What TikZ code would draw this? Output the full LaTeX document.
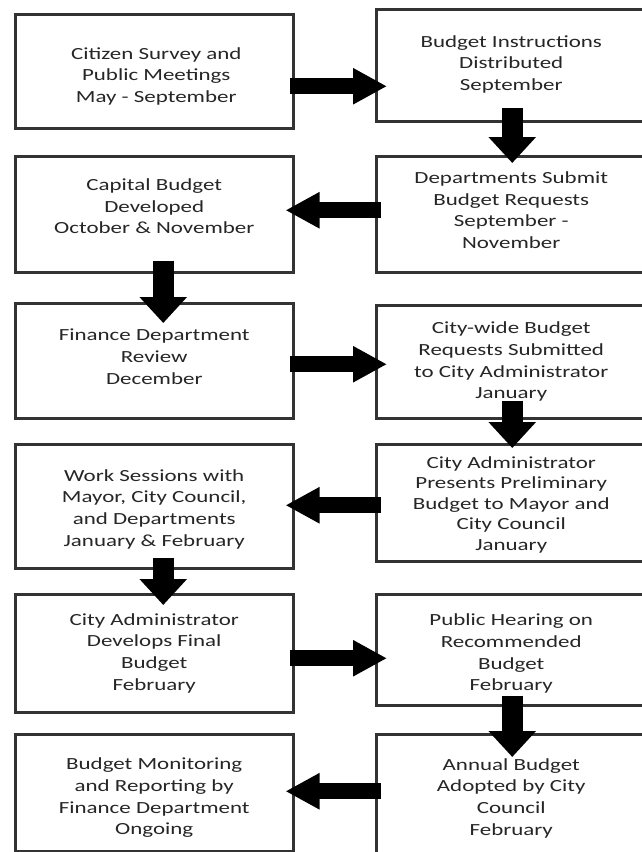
\documentclass[tikz,border=0pt]{standalone}
\usepackage{fontspec}
\usetikzlibrary{arrows.meta,calc}
\newfontfamily\boxfont[FakeStretch=1.35]{Carlito}
\begin{document}
\begin{tikzpicture}[x=1pt,y=-1pt,
  stage/.style={draw=black!80, line width=2.5pt, inner sep=0pt, anchor=north west},
  lbox/.style={stage, minimum width=278pt},
  rbox/.style={stage, minimum width=270pt},
  txt/.style={inner sep=0pt, align=center, text=black!85,
    font={\boxfont\fontsize{17}{21.7}\selectfont}},
  harrow/.style={line width=16pt, -{Triangle[length=34pt,width=34pt]}},
  varrow/.style={line width=21pt, -{Triangle[length=26pt,width=46pt]}}]
\fill[white] (0,0) rectangle (642,852);
\clip (0,0) rectangle (642,852);
% boxes
\node[lbox, minimum height=114pt] (L1) at (14,13) {};
\node[rbox, minimum height=112pt] (R1) at (375,8) {};
\node[lbox, minimum height=116pt] (L2) at (14,155) {};
\node[rbox, minimum height=116pt] (R2) at (375,155) {};
\node[lbox, minimum height=115pt] (L3) at (14,302) {};
\node[rbox, minimum height=113pt] (R3) at (375,304) {};
\node[lbox, minimum height=124pt] (L4) at (14,443) {};
\node[rbox, minimum height=117pt] (R4) at (375,443) {};
\node[lbox, minimum height=118pt] (L5) at (14,593) {};
\node[rbox, minimum height=111pt] (R5) at (375,593) {};
\node[lbox, minimum height=117pt] (L6) at (14,733) {};
\node[rbox, minimum height=120pt] (R6) at (375,733) {};
% texts
\node[txt] (T1) at ($(L1.center)+(2,5)$) {Citizen Survey and\\Public Meetings\\May - September};
\node[txt] (T2) at ($(R1.center)+(0,-1)$) {Budget Instructions\\Distributed\\September};
\node[txt] (T3) at ($(L2.center)+(0,-8)$) {Capital Budget\\Developed\\October \& November};
\node[txt] (T4) at ($(R2.center)+(0,-4)$) {Departments Submit\\Budget Requests\\September -\\November};
\node[txt] (T5) at ($(L3.center)+(0,-4)$) {Finance Department\\Review\\December};
\node[txt] (T6) at ($(R3.center)+(0,0)$) {City-wide Budget\\Requests Submitted\\to City Administrator\\January};
\node[txt, font={\boxfont\fontsize{17}{20.6}\selectfont}] (T7) at ($(R4.center)+(0,2)$) {City Administrator\\Presents Preliminary\\Budget to Mayor and\\City Council\\January};
\node[txt] (T8) at ($(L4.center)+(0,3)$) {Work Sessions with\\Mayor, City Council,\\and Departments\\January \& February};
\node[txt] (T9) at ($(L5.center)+(0,0)$) {City Administrator\\Develops Final\\Budget\\February};
\node[txt] (T10) at ($(R5.center)+(0,4)$) {Public Hearing on\\Recommended\\Budget\\February};
\node[txt] (T11) at ($(L6.center)+(0,5)$) {Budget Monitoring\\and Reporting by\\Finance Department\\Ongoing};
\node[txt] (T12) at ($(R6.center)+(0,4)$) {Annual Budget\\Adopted by City\\Council\\February};
% horizontal arrows
\draw[harrow] ($(L1.east)+(-5,15)$) -- ($(R1.west)+(12,21)$);
\draw[harrow] ($(R2.west)+(6,-4)$) -- ($(L2.east)+(-9,-4)$);
\draw[harrow] ($(L3.east)+(-5,3.5)$) -- ($(R3.west)+(12,2.5)$);
\draw[harrow] ($(R4.west)+(6,2.5)$) -- ($(L4.east)+(-9,-1)$);
\draw[harrow] ($(L5.east)+(-5,5)$) -- ($(R5.west)+(12,8.5)$);
\draw[harrow] ($(R6.west)+(6,-3)$) -- ($(L6.east)+(-9,-1.5)$);
% vertical arrows
\draw[varrow] ($(R1.south)+(1,-15)$) -- ($(R2.north)+(1,8)$);
\draw[varrow] ($(L2.south)+(9,-13)$) -- ($(L3.north)+(9,21)$);
\draw[varrow] ($(R3.south)+(1,-19)$) -- ($(R4.north)+(1,5)$);
\draw[varrow] ($(L4.south)+(9,-12)$) -- ($(L5.north)+(9,12)$);
\draw[varrow] ($(R5.south)+(1,-11)$) -- ($(R6.north)+(1,24)$);
\end{tikzpicture}
\end{document}
